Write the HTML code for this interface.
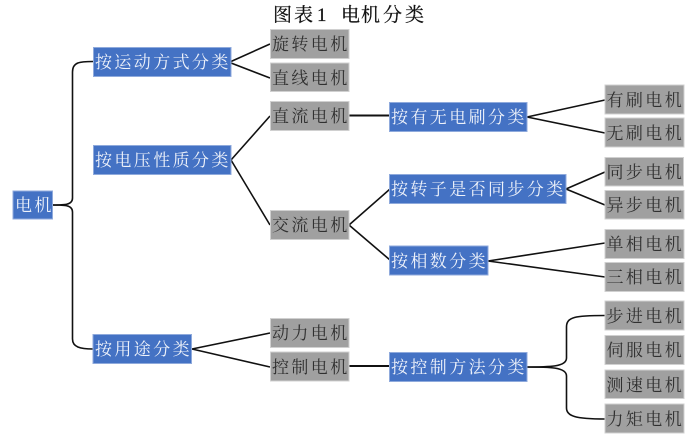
<!DOCTYPE html>
<html lang="zh"><head><meta charset="utf-8"><style>
html,body{margin:0;padding:0;background:#fff;width:700px;height:444px;overflow:hidden}
svg{display:block}
text{font-family:"Liberation Serif","Noto Serif CJK SC",serif}
.b rect{fill:#4472c4;stroke:#8faadc;stroke-width:1}
.g rect{fill:#a0a0a0;stroke:#d0d0d0;stroke-width:1}
.b text{fill:#eef2fa;font-size:17px;letter-spacing:2.4px}
.g text{fill:#303030;font-size:17px;letter-spacing:2.4px}
path{fill:none;stroke:#111;stroke-width:1.6}
path.h{stroke-width:2}
</style></head><body>
<svg width="700" height="444" viewBox="0 0 700 444" xmlns="http://www.w3.org/2000/svg">
<text x="273 294 317 341 361 383 405" y="21" font-size="19" fill="#111" stroke="#111" stroke-width="0.25">图表1电机分类</text>
<path d="M52 205C65 205 72.500 205 72.500 198V72C72.500 62 80 61.500 93 61.500"/>
<path d="M52 205C65 205 72.500 205 72.500 212V339C72.500 347 80 349 93 349"/>
<path d="M231 61.500L270 44M231 63L270 78"/>
<path d="M231 160L270 116M231 160L270 225"/>
<path class="h" d="M349 115.500H390M349 366H390"/>
<path d="M349 225L390 189M349 225L390 260"/>
<path d="M527 117L605 100M527 117L605 133"/>
<path d="M566 189L605 172M566 189L605 205"/>
<path d="M488 261L605 243M488 261L605 277"/>
<path d="M192 349L270 333M192 349L270 367"/>
<path d="M524 367C550 367 566.500 367 566.500 358V327C566.500 317 575 315.500 605 315.500"/>
<path d="M524 367C550 367 566.500 367 566.500 376V408C566.500 416 575 419 605 419"/>
<g class="b">
<rect x="13" y="191" width="39.500" height="28"/><text x="15" y="211">电机</text>
<rect x="93.500" y="47.500" width="137.500" height="29"/><text x="95" y="68">按运动方式分类</text>
<rect x="93.500" y="145.500" width="137.500" height="29"/><text x="95" y="166">按电压性质分类</text>
<rect x="93" y="334.500" width="98.500" height="29"/><text x="95" y="355">按用途分类</text>
<rect x="389.500" y="102.500" width="137.500" height="29"/><text x="391" y="123">按有无电刷分类</text>
<rect x="389.500" y="174.500" width="176.500" height="29"/><text x="391" y="195">按转子是否同步分类</text>
<rect x="389.500" y="246" width="98.500" height="29"/><text x="391" y="267">按相数分类</text>
<rect x="389.500" y="352.500" width="137.500" height="29"/><text x="391" y="373">按控制方法分类</text>
</g>
<g class="g">
<rect x="270.500" y="29.500" width="78.500" height="29"/><text x="272" y="50">旋转电机</text>
<rect x="270.500" y="63" width="78.500" height="28.500"/><text x="272" y="84">直线电机</text>
<rect x="270.500" y="101.500" width="78.500" height="29"/><text x="272" y="122">直流电机</text>
<rect x="270.500" y="210.500" width="78.500" height="29"/><text x="272" y="231">交流电机</text>
<rect x="270.500" y="318.500" width="78.500" height="29"/><text x="272" y="339">动力电机</text>
<rect x="270.500" y="352" width="78.500" height="29"/><text x="272" y="373">控制电机</text>
<rect x="605" y="85" width="79" height="29"/><text x="606.500" y="106">有刷电机</text>
<rect x="605" y="118" width="79" height="29"/><text x="606.500" y="139">无刷电机</text>
<rect x="605" y="157.500" width="78.500" height="28.500"/><text x="606.500" y="178">同步电机</text>
<rect x="605" y="190.500" width="79" height="28.500"/><text x="606.500" y="211">异步电机</text>
<rect x="605" y="229.500" width="79" height="29"/><text x="606.500" y="250">单相电机</text>
<rect x="605" y="262.500" width="79" height="29"/><text x="606.500" y="283">三相电机</text>
<rect x="605" y="301" width="79" height="29"/><text x="606.500" y="322">步进电机</text>
<rect x="605" y="335.500" width="79" height="29"/><text x="606.500" y="356">伺服电机</text>
<rect x="605" y="370" width="79" height="28.500"/><text x="606.500" y="391">测速电机</text>
<rect x="605" y="404" width="79" height="29"/><text x="606.500" y="425">力矩电机</text>
</g>
</svg>
</body></html>
